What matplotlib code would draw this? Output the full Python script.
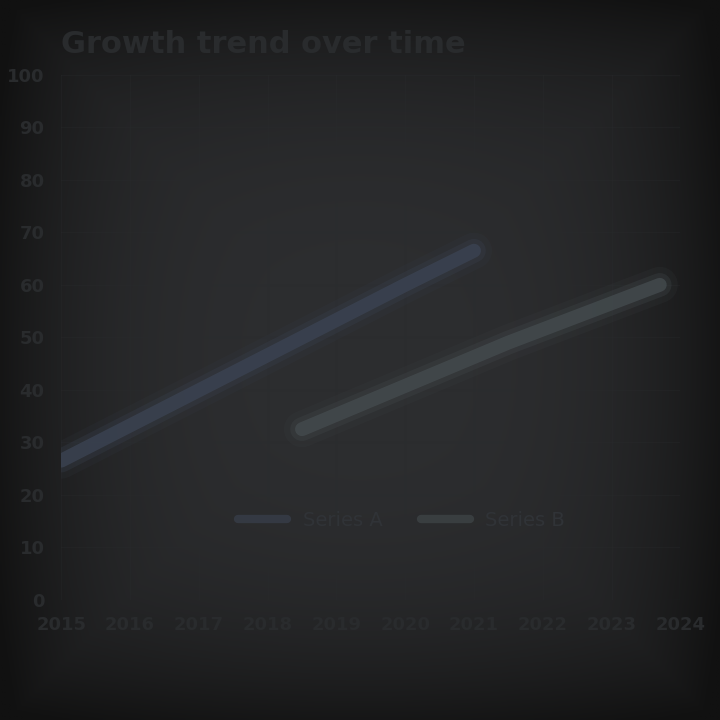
"""
Dark, low-contrast trend chart: two rising series on a vignetted background.
"""

import matplotlib
matplotlib.use("Agg")

import matplotlib.pyplot as plt
import numpy as np

# Data
YEARS_A = [2015, 2016, 2017, 2018, 2019, 2020, 2021]
VALUES_A = [26.5, 33.2, 39.9, 46.6, 53.3, 60, 66.5]
YEARS_B = [2018.5, 2019.5, 2020.5, 2021.5, 2022.5, 2023.7]
VALUES_B = [32.5, 38, 43.5, 49, 54, 60]
X_TICKS = [2015, 2016, 2017, 2018, 2019, 2020, 2021, 2022, 2023, 2024]
Y_TICKS = [0, 10, 20, 30, 40, 50, 60, 70, 80, 90, 100]
SERIES_LABELS = ["Series A", "Series B"]
TITLE = "Growth trend over time"

BG_EDGE = "#111111"
BG_CENTER = "#2d2e30"
TEXT_COLOR = "#292b2d"
COLOR_A = "#3b4352"
COLOR_B = "#444b4e"

fig = plt.figure(figsize=(7.2, 7.2), dpi=100)
fig.patch.set_facecolor(BG_EDGE)

# Vignetted background
bg_ax = fig.add_axes([0, 0, 1, 1], zorder=-1)
yy, xx = np.mgrid[-1:1:300j, -1:1:300j]
r = np.clip(np.maximum(np.abs(xx) * 1.0, np.abs(yy) * 0.98) ** 4 * 0.6
            + np.sqrt(xx ** 2 + yy ** 2) ** 2 * 0.25, 0, 1)
c0 = np.array(matplotlib.colors.to_rgb(BG_CENTER))
c1 = np.array(matplotlib.colors.to_rgb(BG_EDGE))
img = c0[None, None, :] * (1 - r[..., None]) + c1[None, None, :] * r[..., None]
bg_ax.imshow(img, extent=[0, 1, 0, 1], aspect="auto")
bg_ax.axis("off")

ax = fig.add_axes([0.085, 0.167, 0.86, 0.729])
ax.set_facecolor("none")

# soft glow + core for each series
for lw, a in [(26, 0.12), (17, 0.28), (10, 0.8)]:
    ax.plot(YEARS_A, VALUES_A, color=COLOR_A, lw=lw, alpha=a, solid_capstyle="round")
    ax.plot(YEARS_B, VALUES_B, color=COLOR_B, lw=lw, alpha=a, solid_capstyle="round")
ax.plot([], [], color=COLOR_A, lw=6, alpha=0.6, solid_capstyle="round", label=SERIES_LABELS[0])
ax.plot([], [], color=COLOR_B, lw=6, alpha=0.6, solid_capstyle="round", label=SERIES_LABELS[1])

ax.set_xlim(2015, 2024)
ax.set_ylim(0, 100)
ax.set_xticks(X_TICKS)
ax.set_yticks(Y_TICKS)
ax.tick_params(colors=TEXT_COLOR, labelsize=13, length=0, pad=12)
for lbl in ax.get_xticklabels() + ax.get_yticklabels():
    lbl.set_fontweight("bold")
for spine in ax.spines.values():
    spine.set_visible(False)
ax.grid(color="#2a2c2e", alpha=0.3, lw=1)

ax.set_title(TITLE, color=TEXT_COLOR, fontsize=22, fontweight="bold", loc="left", pad=16)

leg = ax.legend(loc="lower center", bbox_to_anchor=(0.55, 0.1), ncol=2, frameon=False,
                fontsize=14, handlelength=2.5)
for t in leg.get_texts():
    t.set_color("#303337")

plt.savefig("out.png", dpi=100, facecolor=fig.get_facecolor())
plt.close()
